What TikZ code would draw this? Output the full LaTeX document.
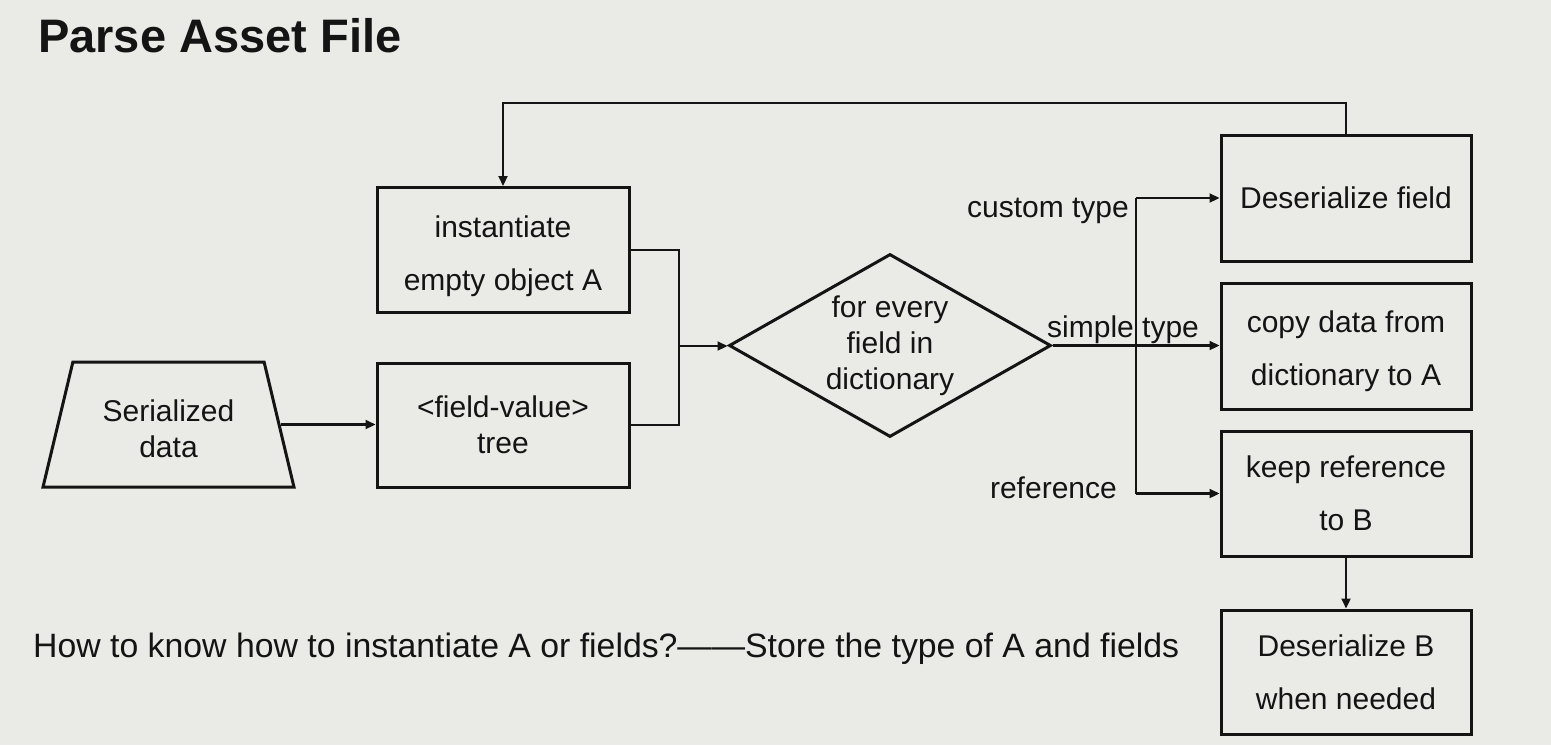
\documentclass[tikz,border=0pt]{standalone}
\usepackage{fontspec}
\setmainfont{Liberation Sans}
\usetikzlibrary{arrows.meta,shapes.geometric}
\definecolor{bg}{RGB}{234,234,230}
\definecolor{ink}{RGB}{20,20,20}
\newcommand{\upstrut}[1]{\rule{0pt}{#1}}
\begin{document}
\begin{tikzpicture}[x=1pt,y=-1pt,
  box/.style={draw=ink,line width=3pt,minimum width=250pt,minimum height=125pt,
    inner sep=0pt,align=center,text=ink,font=\fontsize{30}{53}\selectfont},
  tight/.style={font=\fontsize{30}{36}\selectfont},
  lbl/.style={inner sep=0pt,text=ink,font=\fontsize{30}{36}\selectfont},
  conn/.style={draw=ink,line width=2.2pt},
  arr/.style={conn,-{Triangle[length=10pt,width=9pt]}}]
\fill[bg] (0,0) rectangle (1551,745);
\useasboundingbox (0,0) rectangle (1551,745);

% title
\node[anchor=base west,inner sep=0pt,text=ink,font=\fontsize{47}{56}\selectfont\bfseries] (title) at (38,52) {Parse Asset File};

% left part
\node[draw=ink,line width=3pt,trapezium,trapezium stretches=true,
  trapezium left angle=73,trapezium right angle=73,
  minimum width=251pt,minimum height=125pt,inner sep=0pt,align=center,text=ink,
  font=\fontsize{30}{36}\selectfont] (ser) at (168.5,424.5) {\upstrut{31pt}Serialized\\data};
\node[box,minimum width=252pt] (inst) at (503,250) {\upstrut{34pt}instantiate\\empty object A};
\node[box,tight,minimum width=252pt,minimum height=124pt] (tree) at (503,425) {<field-value>\\tree};

\node[draw=ink,line width=3pt,diamond,aspect=1.76,minimum width=322pt,minimum height=183pt,
  inner sep=0pt,align=center,text=ink,font=\fontsize{30}{36}\selectfont] (dec) at (890,345.5) {for every\\field in\\dictionary};

% right column
\node[box,minimum height=126pt] (df) at (1346,198) {Deserialize field};
\node[box,minimum height=126pt] (cp) at (1346,346) {\upstrut{32pt}copy data from\\dictionary to A};
\node[box] (kr) at (1346,493.5) {keep reference\\to B};
\node[box,minimum height=124pt] (db) at (1346,672) {Deserialize B\\when needed};

% helper coordinates
\coordinate (j) at (679,346);
\coordinate (fb) at (503,103);
\coordinate (bt) at (1136,198);
\coordinate (bb) at (1136,493.5);

% connectors
\draw[arr] (ser.east) -- (ser.east -| tree.west);
\draw[conn] (inst.east) -- (inst.east -| j) -- (tree.east -| j) -- (tree.east);
\draw[arr] (j) -- (j -| dec.west);
\draw[arr] (df.north) |- (fb) -- (inst.north);
\draw[conn] (bt) -- (bb);
\draw[arr] (bt) -- (df.west);
\draw[arr] (dec.east) -- (dec.east -| cp.west);
\draw[arr] (bb) -- (kr.west);
\draw[arr] (kr.south) -- (db.north);

% labels
\node[lbl,anchor=base east] (lcustom) at (1129,217) {custom type};
\node[lbl,anchor=base west] (lsimple) at (1047,337) {simple type};
\node[lbl,anchor=base east] (lref) at (1117,498) {reference};

% bottom note
\node[inner sep=0pt,text=ink,font=\fontsize{33.8}{40}\selectfont,anchor=base west] (note) at (33,657) {How to know how to instantiate A or fields?——Store the type of A and fields};
\end{tikzpicture}
\end{document}
